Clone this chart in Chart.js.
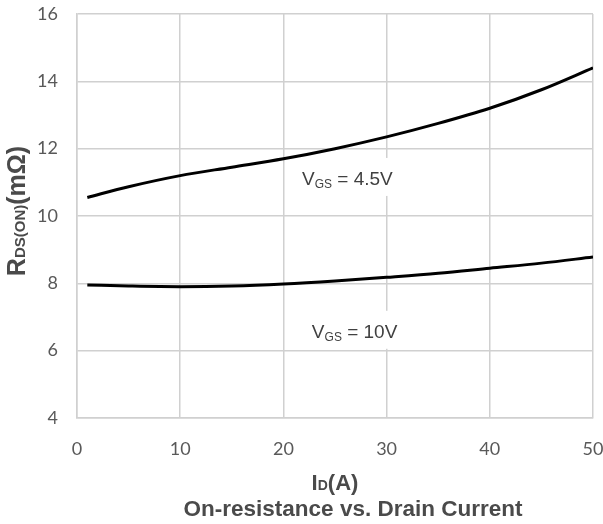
<!DOCTYPE html>
<html>
<head>
<meta charset="utf-8">
<script src="https://cdn.jsdelivr.net/npm/chart.js@4.4.1/dist/chart.umd.min.js"></script>
<style>
  html, body { margin: 0; padding: 0; background: #fff; }
  #wrap { width: 603px; height: 524px; }
</style>
</head>
<body>
<div id="wrap"><canvas id="myChart" width="603" height="524"></canvas></div>
<script>
// drain current (A)
const currents = [1, 5, 10, 15, 20, 25, 30, 35, 40, 45, 50];
// R_DS(ON) in mOhm
const rdsVgs45 = [10.55, 10.87, 11.2, 11.45, 11.7, 12.0, 12.35, 12.75, 13.2, 13.75, 14.4];
const rdsVgs10 = [7.95, 7.92, 7.9, 7.92, 7.98, 8.07, 8.18, 8.3, 8.45, 8.6, 8.78];
const seriesNames = ["VGS = 4.5V", "VGS = 10V"];
// where the curve labels sit (data coords)
const labelX = [26.2, 26.9];
const labelY = [11.16, 6.62];

const gridColor = "#d0d0d0";
const textColor = "#595959";
const titleColor = "#4a4a4a";

function pts(ys) {
    return currents.map((x, i) => ({ x: x, y: ys[i] }));
}

// draw text pieces side by side, centered on cx
function richText(ctx, parts, cx, cy) {
    var w = 0;
    parts.forEach(p => { ctx.font = p.font; p.w = ctx.measureText(p.t).width; w += p.w; });
    var x = cx - w / 2;
    ctx.textAlign = "left";
    ctx.textBaseline = "alphabetic";
    parts.forEach(p => {
        ctx.font = p.font;
        ctx.fillText(p.t, x, cy + (p.dy || 0));
        x += p.w;
    });
    return w;
}

const labelsPlugin = {
    id: "labels",
    afterDatasetsDraw(chart) {
        var ctx = chart.ctx, xs = chart.scales.x, ys = chart.scales.y;
        ctx.save();
        // curve labels on white boxes
        for (var i = 0; i < seriesNames.length; i++) {
            var px = xs.getPixelForValue(labelX[i]);
            var py = ys.getPixelForValue(labelY[i]);
            ctx.fillStyle = "#fff";
            ctx.fillRect(px - 50, py - 19, 100, 38);
            ctx.fillStyle = "#404040";
            var val = seriesNames[i].replace("VGS", "");
            richText(ctx, [
                { t: "V", font: "19px 'Liberation Sans'" },
                { t: "GS", font: "12px 'Liberation Sans'", dy: 3 },
                { t: val, font: "19px 'Liberation Sans'" }
            ], px, py + 8);
        }
        ctx.restore();
    },
    afterDraw(chart) {
        var ctx = chart.ctx, a = chart.chartArea;
        var cx = (a.left + a.right) / 2;
        ctx.save();
        ctx.fillStyle = titleColor;
        // x axis title
        richText(ctx, [
            { t: "I", font: "bold 22px 'Liberation Sans'" },
            { t: "D", font: "bold 14px 'Liberation Sans'" },
            { t: "(A)", font: "bold 22px 'Liberation Sans'" }
        ], cx, 490);
        // chart title
        richText(ctx, [{ t: "On-resistance vs. Drain Current", font: "bold 22.5px 'Liberation Sans'" }], 353, 516);
        // y axis title
        ctx.save();
        ctx.translate(25, 211);
        ctx.rotate(-Math.PI / 2);
        richText(ctx, [
            { t: "R", font: "bold 25px 'Liberation Sans'" },
            { t: "DS(ON)", font: "bold 15px 'Liberation Sans'" },
            { t: "(mΩ)", font: "bold 25px 'Liberation Sans'" }
        ], 0, 0);
        ctx.restore();
        ctx.restore();
    }
};

const data = {
    datasets: [
        { label: seriesNames[0], data: pts(rdsVgs45) },
        { label: seriesNames[1], data: pts(rdsVgs10) }
    ].map(d => Object.assign(d, {
        showLine: true,
        borderColor: "#000",
        borderWidth: 3,
        pointRadius: 0,
        cubicInterpolationMode: "monotone",
        fill: false
    }))
};

const config = {
    type: "scatter",
    data: data,
    options: {
        responsive: false,
        animation: false,
        layout: { padding: 0 },
        plugins: { legend: { display: false }, tooltip: { enabled: false } },
        scales: {
            x: {
                type: "linear",
                min: 0, max: 50,
                grid: { color: gridColor, lineWidth: 1.5, drawTicks: false },
                border: { color: gridColor, width: 1.5 },
                ticks: { stepSize: 10, padding: 20, maxRotation: 0, color: textColor, font: { family: "Lato", size: 18 } },
                afterFit: s => { s.height = 106; s.paddingLeft = 0; s.paddingRight = 10; }
            },
            y: {
                min: 4, max: 16,
                grid: { color: gridColor, lineWidth: 1.5, drawTicks: false },
                border: { color: gridColor, width: 1.5 },
                ticks: { stepSize: 2, padding: 19, color: textColor, font: { family: "Lato", size: 18 } },
                afterFit: s => { s.width = 77; s.paddingTop = 14; s.paddingBottom = 0; }
            }
        }
    },
    plugins: [labelsPlugin]
};

new Chart(document.getElementById("myChart").getContext("2d"), config);
</script>
</body>
</html>
